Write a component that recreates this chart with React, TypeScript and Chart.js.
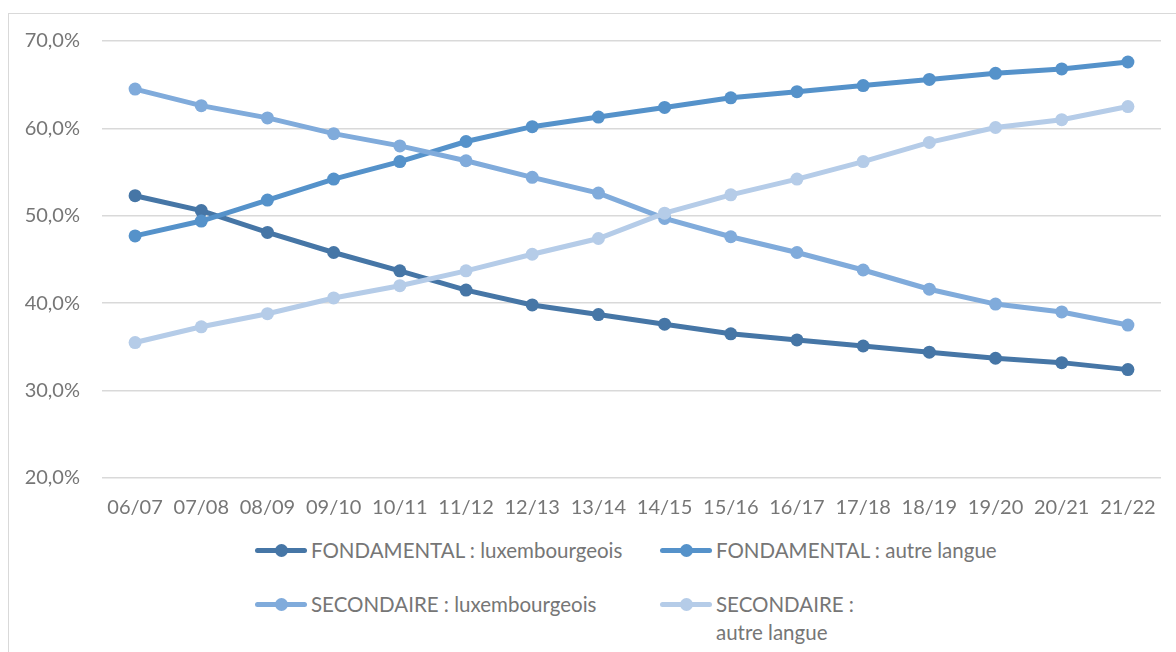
import React, { useEffect, useRef } from "react";
import { Chart, registerables } from "chart.js";

Chart.register(...registerables);

const years = ["06/07", "07/08", "08/09", "09/10", "10/11", "11/12", "12/13", "13/14", "14/15", "15/16", "16/17", "17/18", "18/19", "19/20", "20/21", "21/22"];
const fondLux = [52.3, 50.6, 48.1, 45.8, 43.7, 41.5, 39.8, 38.7, 37.6, 36.5, 35.8, 35.1, 34.4, 33.7, 33.2, 32.4];
const fondAutre = [47.7, 49.4, 51.8, 54.2, 56.2, 58.5, 60.2, 61.3, 62.4, 63.5, 64.2, 64.9, 65.6, 66.3, 66.8, 67.6];
const secLux = [64.5, 62.6, 61.2, 59.4, 58.0, 56.3, 54.4, 52.6, 49.7, 47.6, 45.8, 43.8, 41.6, 39.9, 39.0, 37.5];
const secAutre = [35.5, 37.3, 38.8, 40.6, 42.0, 43.7, 45.6, 47.4, 50.3, 52.4, 54.2, 56.2, 58.4, 60.1, 61.0, 62.5];
const seriesNames = ["FONDAMENTAL : luxembourgeois", "FONDAMENTAL : autre langue", "SECONDAIRE : luxembourgeois", "SECONDAIRE :\nautre langue"];
const seriesColors = ["#4676a6", "#5592ca", "#80abdb", "#b5cce8"];
const yTicks = [20, 30, 40, 50, 60, 70];

const FONT = "Lato, 'Noto Sans', sans-serif";
const TEXT = "#767676";

export default function App() {
  const ref = useRef<HTMLCanvasElement | null>(null);

  useEffect(() => {
    if (!ref.current) return;
    const all = [fondLux, fondAutre, secLux, secAutre];
    const chart = new Chart(ref.current, {
      type: "line",
      data: {
        labels: years,
        datasets: all.map((d, i) => ({
          label: seriesNames[i],
          data: d,
          borderColor: seriesColors[i],
          backgroundColor: seriesColors[i],
          borderWidth: 5,
          pointRadius: 6.5,
          pointBorderWidth: 0,
          pointBackgroundColor: seriesColors[i],
          tension: 0,
          order: 4 - i,
        })),
      },
      options: {
        responsive: false,
        animation: false,
        layout: { padding: { left: 0, right: 15, top: 41, bottom: 0 } },
        plugins: { legend: { display: false }, tooltip: { enabled: false } },
        scales: {
          x: {
            offset: true,
            grid: { display: false, drawTicks: false },
            border: { display: false },
            ticks: { color: TEXT, font: { family: FONT, size: 20 }, padding: 18, maxRotation: 0, autoSkip: false },
            afterFit: (s: any) => { s.height = 47; },
          },
          y: {
            min: yTicks[0],
            max: yTicks[yTicks.length - 1],
            afterBuildTicks: (s: any) => { s.ticks = yTicks.map((v) => ({ value: v })); },
            grid: { color: "#d9d9d9", lineWidth: 1.5, drawTicks: false },
            border: { display: false },
            ticks: {
              color: TEXT,
              font: { family: FONT, size: 20 },
              padding: 22,
              callback: (v: any) => Number(v).toFixed(1).replace(".", ",") + "%",
            },
            afterFit: (s: any) => { s.width = 102; },
          },
        },
      },
    });
    return () => chart.destroy();
  }, []);

  const legendPos = [
    { left: 255, top: 550 },
    { left: 660, top: 550 },
    { left: 255, top: 604 },
    { left: 660, top: 604 },
  ];

  return (
    <div style={{ position: "absolute", left: 0, top: 0, width: 1176, height: 652, overflow: "hidden", background: "#fff", fontFamily: FONT }}>
      <div style={{ position: "absolute", left: 8, top: 13, width: 1300, height: 800, border: "1px solid #d9d9d9" }} />
      <canvas ref={ref} width={1176} height={525} style={{ position: "absolute", left: 0, top: 0, width: 1176, height: 525 }} />
      {seriesNames.map((name, i) => (
        <div key={i} style={{ position: "absolute", left: legendPos[i].left, top: legendPos[i].top - 14, display: "flex", alignItems: "flex-start" }}>
          <div style={{ position: "relative", width: 52, height: 28, marginRight: 4 }}>
            <div style={{ position: "absolute", left: 0, top: 11.5, width: 52, height: 5, borderRadius: 3, background: seriesColors[i] }} />
            <div style={{ position: "absolute", left: 19.5, top: 7.5, width: 13, height: 13, borderRadius: "50%", background: seriesColors[i] }} />
          </div>
          <div style={{ color: TEXT, fontSize: 20.5, lineHeight: "28px", whiteSpace: "pre-line" }}>{name}</div>
        </div>
      ))}
    </div>
  );
}
